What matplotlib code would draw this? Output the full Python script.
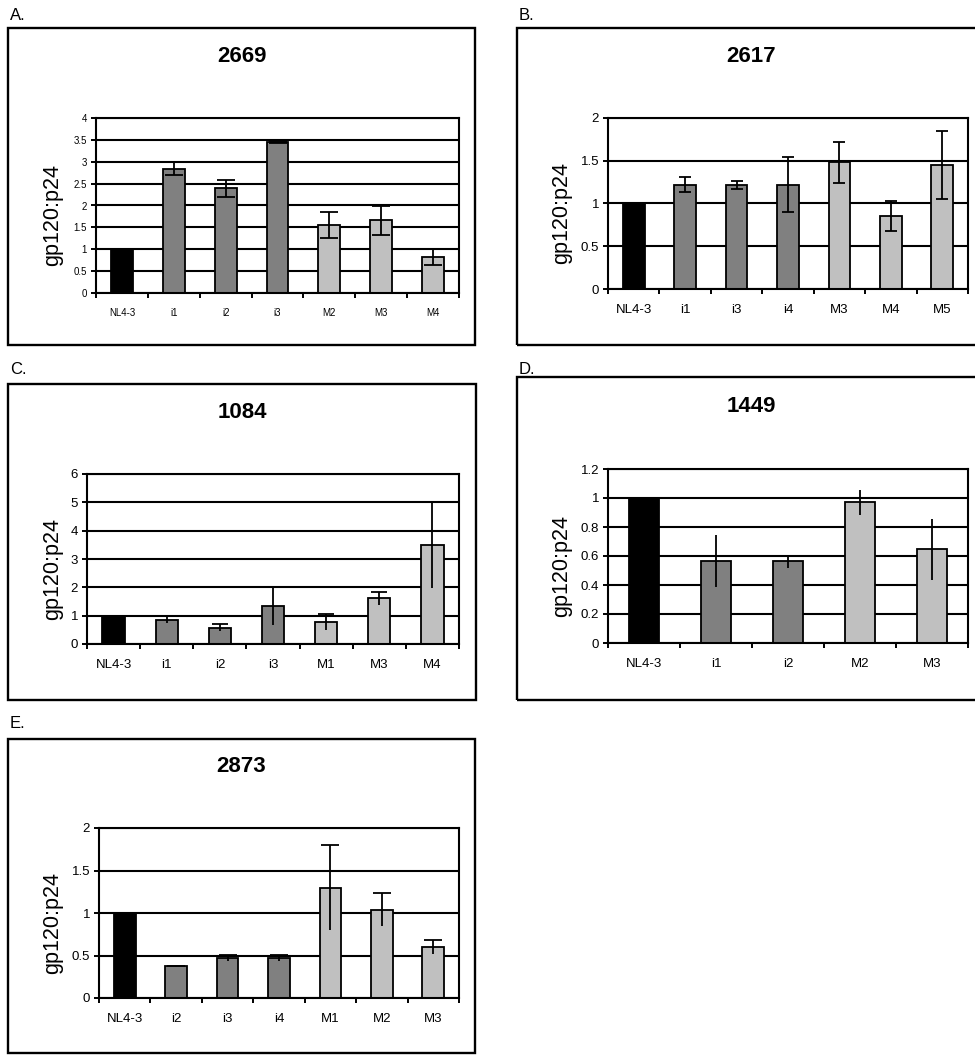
import numpy as np
import matplotlib.pyplot as plt
from matplotlib.patches import Rectangle

plt.rcParams['font.family'] = ['Liberation Sans', 'DejaVu Sans']

W, H = 975, 1057

# A. 2669
a_labels = ['NL4-3', 'i1', 'i2', 'i3', 'M2', 'M3', 'M4']
a_vals = [1.0, 2.84, 2.39, 3.44, 1.56, 1.66, 0.83]
a_errs = [0.0, 0.15, 0.20, 0.02, 0.30, 0.33, 0.18]

# B. 2617
b_labels = ['NL4-3', 'i1', 'i3', 'i4', 'M3', 'M4', 'M5']
b_vals = [1.0, 1.22, 1.22, 1.22, 1.48, 0.85, 1.45]
b_errs = [0.0, 0.09, 0.045, 0.32, 0.245, 0.175, 0.40]

# C. 1084
c_labels = ['NL4-3', 'i1', 'i2', 'i3', 'M1', 'M3', 'M4']
c_vals = [1.0, 0.86, 0.575, 1.34, 0.775, 1.61, 3.49]
c_errs = [0.0, 0.13, 0.13, 0.67, 0.27, 0.22, 1.53]

# D. 1449
d_labels = ['NL4-3', 'i1', 'i2', 'M2', 'M3']
d_vals = [1.0, 0.565, 0.565, 0.97, 0.647]
d_errs = [0.0, 0.18, 0.045, 0.085, 0.21]

# E. 2873
e_labels = ['NL4-3', 'i2', 'i3', 'i4', 'M1', 'M2', 'M3']
e_vals = [1.0, 0.373, 0.475, 0.47, 1.30, 1.04, 0.60]
e_errs = [0.0, 0.005, 0.035, 0.035, 0.505, 0.19, 0.08]


def fx(px):
    return px / W


def fy(py):
    return 1 - py / H


def bar_color(lab):
    if lab.startswith('NL'):
        return 'black'
    if lab.startswith('i'):
        return '#808080'
    return '#c0c0c0'


fig = plt.figure(figsize=(W / 100, H / 100), dpi=100)


def panel(letter, title, labels, vals, errs, ymax, ystep, box, axpx,
          title_y, letter_xy, ylab_x, caps='both', capsize=6, tick_fs=9.5):
    x0, y0, x1, y1 = box
    fig.patches.append(Rectangle((fx(x0), fy(y1)), fx(x1 - x0), (y1 - y0) / H,
                                 transform=fig.transFigure, fill=False,
                                 edgecolor='black', linewidth=1.7))
    fig.text(fx(letter_xy[0]), fy(letter_xy[1]), letter, fontsize=12,
             ha='left', va='center')
    fig.text(fx((x0 + x1) / 2), fy(title_y), title, fontsize=16,
             fontweight='bold', ha='center', va='center')

    l, t, r, b = axpx
    ax = fig.add_axes([fx(l), fy(b), fx(r - l), (b - t) / H])
    n = len(labels)
    x = np.arange(n)
    vals = np.array(vals)
    errs = np.array(errs)
    ax.bar(x, vals, width=0.42, color=[bar_color(s) for s in labels],
           edgecolor='black', linewidth=1.3, zorder=2)

    if caps == 'both':
        ax.errorbar(x, vals, yerr=errs, fmt='none', ecolor='black',
                    elinewidth=1.3, capsize=capsize, capthick=1.3, zorder=3)
    else:
        ax.errorbar(x, vals, yerr=errs, fmt='none', ecolor='black',
                    elinewidth=1.3, capsize=0, zorder=3)
        if caps == 'top':
            ax.plot(x, vals + errs, ls='none', marker='_', ms=2 * capsize,
                    mew=1.3, color='black', zorder=3)

    ticks = np.arange(0, ymax + ystep / 2, ystep)
    ax.set_xlim(-0.5, n - 0.5)
    ax.set_ylim(0, ymax)
    ax.set_yticks(ticks)
    ax.set_yticklabels(['{:g}'.format(round(v, 2)) for v in ticks])
    ax.set_xticks(x)
    ax.set_xticklabels(labels)
    ax.set_xticks(np.arange(-0.5, n, 1), minor=True)
    ax.tick_params(axis='x', which='major', length=0, pad=11,
                   labelsize=tick_fs)
    ax.tick_params(axis='x', which='minor', length=3.5, width=1.4,
                   direction='out')
    ax.tick_params(axis='y', length=3.5, width=1.4, direction='out', pad=3,
                   labelsize=tick_fs)
    ax.yaxis.grid(True, color='black', linewidth=1.5)
    ax.set_axisbelow(True)
    for sp in ax.spines.values():
        sp.set_linewidth(1.5)
        sp.set_color('black')

    fig.text(fx(ylab_x), fy((t + b) / 2 + 10), 'gp120:p24', fontsize=15.5,
             rotation=90, ha='center', va='center')
    return ax


panel('A.', '2669', a_labels, a_vals, a_errs, 4, 0.5,
      (8, 28, 475, 345), (96, 118, 459, 293), 57, (10, 15), 53,
      caps='both', capsize=6.5, tick_fs=7)
panel('B.', '2617', b_labels, b_vals, b_errs, 2, 0.5,
      (517, 28, 985, 345), (608, 118, 968, 289), 57, (519, 15), 562,
      caps='both', capsize=4.5)
panel('C.', '1084', c_labels, c_vals, c_errs, 6, 1,
      (8, 384, 476, 700), (87, 474, 459, 644), 413, (10, 370), 53,
      caps='top', capsize=6)
panel('D.', '1449', d_labels, d_vals, d_errs, 1.2, 0.2,
      (517, 377, 985, 700), (608, 469, 968, 643), 406, (519, 369), 562,
      caps='none')
panel('E.', '2873', e_labels, e_vals, e_errs, 2, 0.5,
      (8, 739, 475, 1053), (99, 828, 459, 998), 767, (10, 723), 53,
      caps='top', capsize=6.5)

fig.savefig('out.png', dpi=100)
